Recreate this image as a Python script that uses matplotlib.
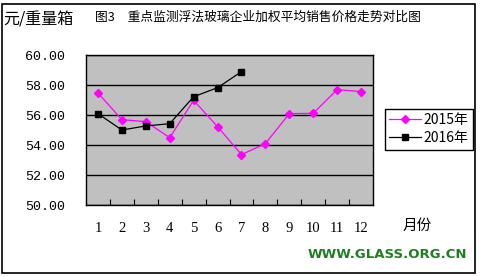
import matplotlib
matplotlib.use('Agg')
import matplotlib.pyplot as plt
from matplotlib.patches import Rectangle

months = list(range(1, 13))
price_2015 = [57.47, 55.69, 55.56, 54.49, 56.98, 55.22, 53.36, 54.09, 56.09, 56.11, 57.69, 57.56]
months_2016 = list(range(1, 8))
price_2016 = [56.09, 55.00, 55.27, 55.42, 57.22, 57.82, 58.89]
series_names = ['2015年', '2016年']

CJK = ['Noto Sans CJK SC', 'DejaVu Sans']
plt.rcParams['font.family'] = CJK

W, H = 480, 277
fig = plt.figure(figsize=(W / 100, H / 100), dpi=100)
fig.patch.set_facecolor('white')

# outer frame
fig.add_artist(Rectangle((1.5 / W, 1 - 272.5 / H), 473.5 / W, 269 / H,
                         transform=fig.transFigure, fill=False,
                         edgecolor='black', linewidth=1.2))

ax = fig.add_axes([86 / W, 1 - 205 / H, 287 / W, 150 / H])
ax.set_facecolor('#c0c0c0')
for s in ax.spines.values():
    s.set_color('black')
    s.set_linewidth(1)

ax.plot(months, price_2015, color='#ff00ff', marker='D', markersize=4.5,
        linewidth=0.9, label=series_names[0])
ax.plot(months_2016, price_2016, color='black', marker='s', markersize=5,
        linewidth=0.9, label=series_names[1])

ax.set_xlim(0.5, 12.5)
ax.set_ylim(50, 60)
ax.set_yticks([50, 52, 54, 56, 58, 60])
ax.set_yticklabels([f'{v:.2f}' for v in [50, 52, 54, 56, 58, 60]],
                   family='Liberation Mono', fontsize=9.6)
ax.yaxis.grid(True, color='black', linewidth=1)
ax.tick_params(axis='y', length=0, pad=15)

# category boundary ticks
ax.set_xticks([i + 0.5 for i in range(12)], minor=True)
ax.set_xticks(months)
ax.set_xticklabels([str(m) for m in months], family='Liberation Serif', fontsize=10.5)
ax.tick_params(axis='x', which='major', length=0, pad=12)
ax.tick_params(axis='x', which='minor', direction='in', length=4, width=0.8)

leg = ax.legend(loc='upper left', bbox_to_anchor=(385 / W, 1 - 109 / H),
                bbox_transform=fig.transFigure, frameon=True, fancybox=False,
                edgecolor='black', framealpha=1, fontsize=10,
                handlelength=2.3, handletextpad=0.2, borderpad=0.3,
                labelspacing=0.3, borderaxespad=0)
leg.get_frame().set_linewidth(1)

fig.text(3 / W, 1 - 20 / H, '元/重量箱', fontsize=11.5, va='center', ha='left')
fig.text(95 / W, 1 - 17 / H, '图3　重点监测浮法玻璃企业加权平均销售价格走势对比图',
         fontsize=9.2, va='center', ha='left')
fig.text(403 / W, 1 - 226 / H, '月份', fontsize=10.5, va='center', ha='left')
fig.text(308 / W, 1 - 255 / H, 'WWW.GLASS.ORG.CN', fontsize=9.5, fontweight='bold',
         color='#1f7f1f', family='DejaVu Sans', va='center', ha='left')

fig.savefig('out.png', dpi=100)
